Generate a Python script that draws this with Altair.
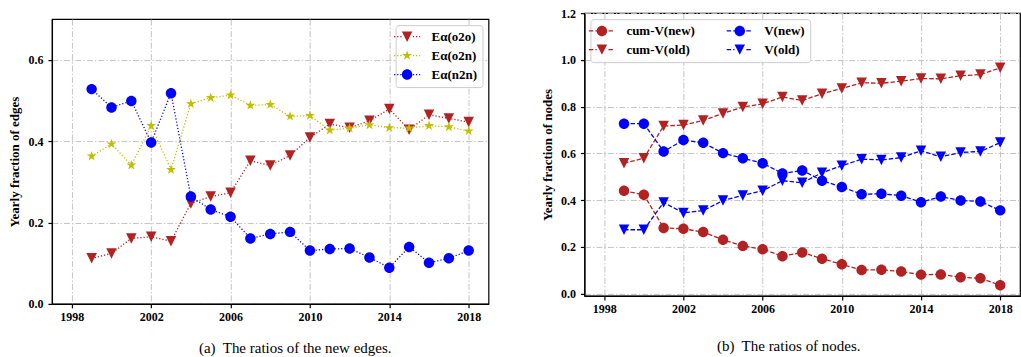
import math
import altair as alt
import pandas as pd

# ---------------- data ----------------
years = list(range(1999, 2019))

edge_names = ["Eα(o2o)", "Eα(o2n)", "Eα(n2n)"]
e_o2o = [0.112, 0.124, 0.161, 0.165, 0.154, 0.247, 0.264, 0.273, 0.352, 0.340,
         0.365, 0.409, 0.442, 0.433, 0.450, 0.479, 0.428, 0.465, 0.456, 0.447]
e_o2n = [0.363, 0.393, 0.341, 0.438, 0.330, 0.492, 0.507, 0.513, 0.488, 0.490,
         0.461, 0.463, 0.427, 0.432, 0.440, 0.433, 0.432, 0.438, 0.435, 0.425]
e_n2n = [0.528, 0.483, 0.499, 0.397, 0.518, 0.264, 0.232, 0.214, 0.161, 0.172,
         0.177, 0.131, 0.135, 0.136, 0.114, 0.089, 0.140, 0.101, 0.112, 0.131]

node_names = ["cum-V(new)", "cum-V(old)", "V(new)", "V(old)"]
cum_v_new = [0.440, 0.423, 0.281, 0.277, 0.263, 0.230, 0.204, 0.190, 0.160, 0.176,
             0.149, 0.125, 0.101, 0.102, 0.094, 0.081, 0.082, 0.070, 0.065, 0.036]
cum_v_old = [0.558, 0.579, 0.717, 0.721, 0.741, 0.771, 0.798, 0.812, 0.841, 0.826,
             0.855, 0.878, 0.902, 0.900, 0.909, 0.920, 0.919, 0.932, 0.937, 0.966]
v_new = [0.727, 0.727, 0.608, 0.657, 0.645, 0.601, 0.579, 0.558, 0.514, 0.527,
         0.483, 0.456, 0.425, 0.427, 0.419, 0.391, 0.415, 0.398, 0.394, 0.356]
v_old = [0.273, 0.273, 0.390, 0.345, 0.355, 0.398, 0.420, 0.440, 0.483, 0.474,
         0.517, 0.547, 0.575, 0.572, 0.582, 0.611, 0.585, 0.604, 0.608, 0.646]

x_ticks = [1998, 2002, 2006, 2010, 2014, 2018]
edge_y_ticks = [0.0, 0.2, 0.4, 0.6]
node_y_ticks = [0.0, 0.2, 0.4, 0.6, 0.8, 1.0, 1.2]

edge_title = "Yearly fraction of edges"
node_title = "Yearly fraction of nodes"
caption_a = "(a)\u00a0 The ratios of the new edges."
caption_b = "(b)\u00a0 The ratios of nodes."

# ---------------- styles ----------------
RED = "#b22222"
YEL = "#bfbf00"
BLU = "#0000ff"
SERIF = "Liberation Serif"
MSIZE = 110

TRI_DOWN = "M0,1L-1,-1L1,-1Z"
CIRCLE = "M-1,0A1,1,0,1,0,1,0A1,1,0,1,0,-1,0Z"


def star_path(r_in=0.381966):
    pts = []
    for k in range(10):
        r = 1.0 if k % 2 == 0 else r_in
        a = math.radians(-90 + 36 * k)
        pts.append(f"{r * math.cos(a):.3f},{r * math.sin(a):.3f}")
    return "M" + "L".join(pts) + "Z"


STAR = star_path()


def legend_glyph(marker, dash, gap, half=2.5, thick=0.12, clear=1.0):
    parts = [marker]
    x = -half
    while x < half - 1e-6:
        x1 = min(x + dash, half)
        segs = []
        if x1 <= -clear or x >= clear:
            segs = [(x, x1)]
        else:
            if x < -clear:
                segs.append((x, -clear))
            if x1 > clear:
                segs.append((clear, x1))
        for a, b in segs:
            parts.append(f"M{a:.3f},{-thick:.3f}L{b:.3f},{-thick:.3f}"
                         f"L{b:.3f},{thick:.3f}L{a:.3f},{thick:.3f}Z")
        x = x1 + gap
    return "".join(parts)


def long_df(names, series):
    rows = []
    for n, vals in zip(names, series):
        for yr, v in zip(years, vals):
            rows.append({"year": yr, "series": n, "value": v})
    return pd.DataFrame(rows)


def panel(key, names, series, colors, markers, dash, ydomain, yticks, ytitle,
          caption, caption_x, caption_pad, legend_orient, legend_cols,
          glyph_dash, glyph_gap, width, height):
    df = long_df(names, series)
    x_enc = alt.X("year:Q",
                  scale=alt.Scale(domain=[1997, 2019], nice=False, zero=False),
                  axis=alt.Axis(values=x_ticks, format="d", title=caption,
                                titleFont=SERIF, titleFontWeight="normal",
                                titleFontSize=15, titleX=caption_x,
                                titlePadding=caption_pad))
    y_enc = alt.Y("value:Q",
                  scale=alt.Scale(domain=ydomain, nice=False, zero=False),
                  axis=alt.Axis(values=yticks, format=".1f", title=ytitle))
    layers = []
    for n, c, m in zip(names, colors, markers):
        sub = alt.Chart(df).transform_filter(alt.datum.series == n)
        layers.append(sub.mark_line(color=c, strokeDash=dash, strokeWidth=1.3)
                      .encode(x=x_enc, y=y_enc))
        layers.append(sub.mark_point(filled=True, shape=m, size=MSIZE, color=c,
                                     opacity=1, strokeWidth=0)
                      .encode(x=x_enc, y=y_enc))
    glyphs = [legend_glyph(m, glyph_dash, glyph_gap) for m in markers]
    leg = alt.Legend(title=None, orient=legend_orient, offset=6, columns=legend_cols,
                     fillColor="rgba(255,255,255,0.85)", strokeColor="#cccccc",
                     cornerRadius=3, padding=5, labelFont=SERIF,
                     labelFontWeight="bold", labelFontSize=13, labelColor="black",
                     symbolSize=MSIZE, symbolStrokeWidth=0, labelOffset=18,
                     rowPadding=5, columnPadding=31, symbolOpacity=1)
    legend_layer = (alt.Chart(df.rename(columns={"series": key}))
                    .transform_filter("false")
                    .mark_point(filled=True, size=MSIZE, opacity=1)
                    .encode(color=alt.Color(f"{key}:N",
                                            scale=alt.Scale(domain=names, range=colors),
                                            legend=leg),
                            shape=alt.Shape(f"{key}:N",
                                            scale=alt.Scale(domain=names, range=glyphs),
                                            legend=leg)))
    layers.append(legend_layer)
    return alt.layer(*layers).properties(width=width, height=height)


left = panel("edge_series", edge_names, [e_o2o, e_o2n, e_n2n], [RED, YEL, BLU],
             [TRI_DOWN, STAR, CIRCLE], [1.2, 2.0], [0, 0.7], edge_y_ticks,
             edge_title, caption_a, 243, 18, "top-right", 1, 0.24, 0.36, 437, 285)

# tiny invisible spacer so that the left panel sits a few pixels lower
spacer = (alt.Chart(pd.DataFrame({"year": years})).transform_filter("false")
          .mark_point(opacity=0)
          .properties(width=437, height=1, view=alt.ViewBackground(stroke=None)))
left_col = (alt.vconcat(spacer, left, spacing=4)
            .resolve_scale(color="independent", shape="independent")
            .resolve_legend(color="independent", shape="independent"))

right = panel("node_series", node_names, [cum_v_new, cum_v_old, v_new, v_old],
              [RED, RED, BLU, BLU], [CIRCLE, TRI_DOWN, CIRCLE, TRI_DOWN],
              [4.5, 2.0], [-0.01, 1.2], node_y_ticks, node_title, caption_b,
              204, 24, "top-left", 2, 0.85, 0.4, 436, 283)

chart = (alt.hconcat(left_col, right, spacing=51)
         .resolve_scale(color="independent", shape="independent")
         .resolve_legend(color="independent", shape="independent")
         .configure(padding={"left": 8, "top": 6, "right": 0, "bottom": 0},
                    background="white")
         .configure_view(stroke="black", strokeWidth=1.2)
         .configure_axis(labelFont=SERIF, labelFontSize=12, labelFontWeight="bold",
                         labelColor="black", titleFont=SERIF, titleFontSize=13,
                         titleFontWeight="bold", titleColor="black",
                         gridColor="#c4c4c4", gridDash=[6, 2, 1.5, 2], gridWidth=1,
                         tickColor="black", tickSize=4, tickWidth=1.2,
                         domainColor="black", domainWidth=1.2, labelPadding=4)
         .configure_axisY(titlePadding=6, labelPadding=5)
         .configure_axisX(labelPadding=4))

chart.save("out.html", embed_options={"renderer": "svg", "actions": False})
